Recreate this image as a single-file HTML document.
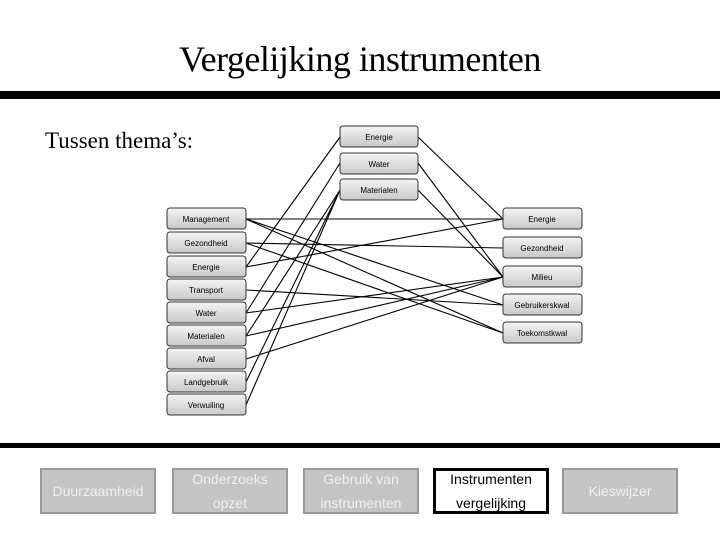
<!DOCTYPE html>
<html><head><meta charset="utf-8"><style>
body{margin:0;width:720px;height:540px;background:#fff;position:relative;overflow:hidden;font-family:"Liberation Sans",sans-serif}
.t{position:absolute;left:0;width:720px;top:38px;text-align:center;font:36px "Liberation Serif",serif;letter-spacing:-0.5px}
.bar{position:absolute;left:0;width:720px;background:#000}
.sub{position:absolute;left:45px;top:128px;font:23px "Liberation Serif",serif}
.nav{position:absolute;top:468px;height:46px;box-sizing:border-box;border:2px solid #9a9a9a;background:#c4c4c4;color:#efefef;font-size:14px;text-align:center;display:flex;align-items:center;justify-content:center;line-height:24px}
.nav.a{background:#fff;border:3px solid #000;color:#000}
</style></head><body>
<div class="t">Vergelijking instrumenten</div>
<div class="bar" style="top:91px;height:8px"></div>
<div class="sub">Tussen thema’s:</div>
<svg width="720" height="540" style="position:absolute;left:0;top:0">
<defs><linearGradient id="g" x1="0" y1="0" x2="0" y2="1"><stop offset="0" stop-color="#f4f4f4"/><stop offset="1" stop-color="#c8c8c8"/></linearGradient></defs>
<g stroke="#000" stroke-width="1.1">
<line x1="418" y1="137" x2="503" y2="219"/>
<line x1="418" y1="163" x2="503" y2="277"/>
<line x1="418" y1="190" x2="503" y2="277"/>
<line x1="340" y1="137" x2="246" y2="267"/>
<line x1="340" y1="163" x2="246" y2="313"/>
<line x1="340" y1="190" x2="246" y2="336"/>
<line x1="340" y1="190" x2="246" y2="382"/>
<line x1="340" y1="190" x2="246" y2="405"/>
<line x1="246" y1="219" x2="503" y2="219"/>
<line x1="246" y1="219" x2="503" y2="305"/>
<line x1="246" y1="219" x2="503" y2="333"/>
<line x1="246" y1="243" x2="503" y2="248"/>
<line x1="246" y1="243" x2="503" y2="333"/>
<line x1="246" y1="267" x2="503" y2="219"/>
<line x1="246" y1="290" x2="503" y2="305"/>
<line x1="246" y1="313" x2="503" y2="277"/>
<line x1="246" y1="336" x2="503" y2="277"/>
<line x1="246" y1="359" x2="503" y2="277"/>
</g>
<g stroke="#333" stroke-width="1" fill="url(#g)" font-size="8" text-anchor="middle">
<rect x="340" y="126" width="78" height="21" rx="3"/><rect x="340" y="153" width="78" height="21" rx="3"/><rect x="340" y="179" width="78" height="21" rx="3"/>
<rect x="167" y="208" width="79" height="21" rx="3"/><rect x="167" y="232" width="79" height="21" rx="3"/><rect x="167" y="256" width="79" height="21" rx="3"/><rect x="167" y="279" width="79" height="21" rx="3"/><rect x="167" y="302" width="79" height="21" rx="3"/><rect x="167" y="325" width="79" height="21" rx="3"/><rect x="167" y="348" width="79" height="21" rx="3"/><rect x="167" y="371" width="79" height="21" rx="3"/><rect x="167" y="394" width="79" height="21" rx="3"/>
<rect x="503" y="208" width="79" height="21" rx="3"/><rect x="503" y="237" width="79" height="21" rx="3"/><rect x="503" y="266" width="79" height="21" rx="3"/><rect x="503" y="294" width="79" height="21" rx="3"/><rect x="503" y="322" width="79" height="21" rx="3"/>
</g>
<g fill="#000" stroke="none" font-size="8" text-anchor="middle">
<text x="379" y="140">Energie</text><text x="379" y="167">Water</text><text x="379" y="193">Materialen</text>
<text x="206" y="222">Management</text><text x="206" y="246">Gezondheid</text><text x="206" y="270">Energie</text><text x="206" y="293">Transport</text><text x="206" y="316">Water</text><text x="206" y="339">Materialen</text><text x="206" y="362">Afval</text><text x="206" y="385">Landgebruik</text><text x="206" y="408">Verwuiling</text>
<text x="542" y="222">Energie</text><text x="542" y="251">Gezondheid</text><text x="542" y="280">Milieu</text><text x="542" y="308">Gebruikerskwal</text><text x="542" y="336">Toekomstkwal</text>
</g>
</svg>
<div class="bar" style="top:443px;height:5px"></div>
<div class="nav" style="left:40px;width:116px">Duurzaamheid</div>
<div class="nav" style="left:172px;width:116px">Onderzoeks<br>opzet</div>
<div class="nav" style="left:303px;width:116px">Gebruik van<br>instrumenten</div>
<div class="nav a" style="left:433px;width:116px">Instrumenten<br>vergelijking</div>
<div class="nav" style="left:562px;width:116px">Kieswijzer</div>
</body></html>
